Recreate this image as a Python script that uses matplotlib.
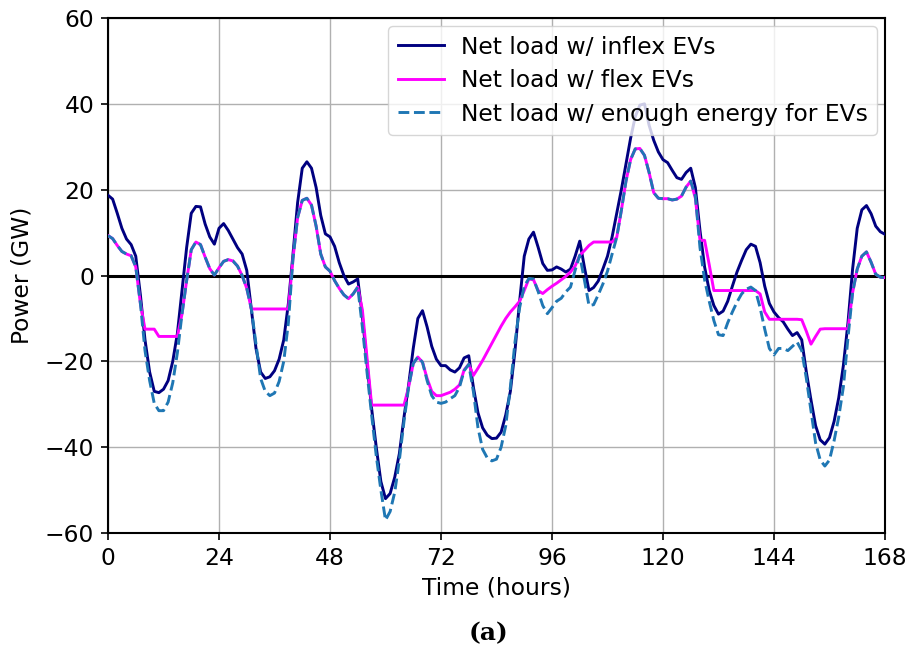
import numpy as np
import matplotlib
matplotlib.use("Agg")
import matplotlib.pyplot as plt

hours = np.arange(169)

inflex = [
    18.7, 17.8, 14.5, 11, 8.5, 7.2, 4.5, -4.5, -15, -22.5, -27, -27.3, -26.5, -24.5, -20, -13.5, -3.5, 6.5, 14.5, 16.1, 16, 12, 9, 7.3,
    11, 12.1, 10.5, 8.5, 6.5, 5, 1.2, -8, -17, -22.5, -24, -23.6, -22.2, -19.5, -15, -6.5, 5, 17, 25, 26.5, 25, 20.5, 14, 9.7,
    9, 6.8, 3, 0, -2, -1.5, -0.8, -9.5, -20.5, -31, -40, -48, -52, -50.8, -47, -41.5, -33, -25.5, -17, -10, -8.2, -12, -16.5, -19.5,
    -21, -21, -22, -22.5, -21.5, -19.2, -18.7, -26, -32, -35.5, -37.2, -38, -37.9, -36.5, -32.5, -27, -17.5, -6, 4.5, 8.5, 10.1, 6.6, 2.8, 1.2,
    1.3, 2, 1.5, 0.8, 1.5, 4.5, 8, 2, -3.5, -2.8, -1.3, 1.5, 4.5, 9, 14.5, 20, 26, 32, 37, 39.7, 40, 35, 31.5, 28.8,
    27, 26.3, 24.5, 22.8, 22.4, 24, 25, 20.5, 10.5, 2, -3.5, -7, -9, -8.3, -6, -2.5, 0.8, 3.5, 6, 7.3, 6.8, 3, -2.5, -6.5,
    -8.5, -9.8, -10.8, -12.5, -14, -13.3, -15, -22.5, -29, -35, -38.3, -39.3, -37.8, -34, -28.5, -21, -11, 1.5, 11, 15.3, 16.3, 14.4, 11.5, 10.2,
    9.6,
]

flex = [
    9.3, 8.6, 7, 5.6, 5, 4.6, 2, -6.5, -12.5, -12.5, -12.5, -14.2, -14.2, -14.2, -14.2, -14.2, -9, -1.2, 6, 7.8, 7.2, 4.3, 1.6, 0.1,
    1.8, 3.3, 3.7, 3.4, 2.2, 0, -3, -7.8, -7.8, -7.8, -7.8, -7.8, -7.8, -7.8, -7.8, -7.8, 4, 13.5, 17.5, 18, 16.4, 11.5, 5, 2,
    1, -1.2, -3, -4.5, -5.4, -4.3, -2.7, -8, -19, -30.2, -30.2, -30.2, -30.2, -30.2, -30.2, -30.2, -30.2, -26, -20.5, -19, -20.2, -24, -27, -28,
    -28, -27.6, -27.2, -26.5, -25.5, -22, -20.7, -23.3, -21.6, -19.8, -17.8, -15.8, -13.8, -11.8, -10, -8.5, -7.3, -6, -3.5, -0.8, -1, -3.5, -4.2, -3.3,
    -2.5, -1.8, -1, -0.2, 0.8, 2.2, 4.7, 5.8, 7, 7.8, 7.8, 7.8, 7.8, 7.8, 8.9, 15.2, 22, 27, 29.5, 29.6, 28, 24, 19.3, 18,
    17.9, 17.9, 17.6, 17.8, 18.5, 20.6, 22, 18, 8.2, 8.2, 2.5, -3.5, -3.5, -3.5, -3.5, -3.5, -3.5, -3.5, -3.5, -3.5, -3.5, -4.3, -8.5, -10.2,
    -10.2, -10.2, -10.2, -10.2, -10.2, -10.2, -10.3, -13, -16, -14.2, -12.5, -12.4, -12.4, -12.4, -12.4, -12.4, -12.4, -4, 1.5, 4.5, 5.5, 3.1, 0.3, -0.4,
    -0.5,
]

enough = [
    9.3, 8.6, 7, 5.6, 5, 4.6, 2, -6.5, -17.5, -24.5, -29.8, -31.5, -31.5, -29.5, -25, -18, -9, -1.2, 6, 7.8, 7.2, 4.3, 1.6, 0.1,
    1.8, 3.3, 3.7, 3.4, 2.2, 0, -3, -7.8, -16, -24, -27, -28, -27.4, -24.7, -20, -11, 4, 13.5, 17.5, 18, 16.4, 11.5, 5, 2,
    1, -1.2, -3, -4.5, -5.4, -4.3, -2.7, -12, -22.5, -32.5, -42, -50, -57, -55, -50.5, -43, -34, -26, -20.5, -19, -20.2, -24.5, -28, -29.5,
    -29.8, -29.5, -28.7, -28, -26, -22.2, -20.7, -27, -35.5, -40.5, -42.5, -43.2, -42.8, -40, -35, -26, -15.5, -7.5, -2.5, -0.7, -0.8, -3.7, -7, -8.9,
    -7.5, -6, -5.3, -3.8, -2.7, 1.2, 4.7, -1, -7, -6.8, -4.5, -2, 1, 5, 8.9, 15.2, 22, 27, 29.5, 29.6, 28, 24, 19.3, 18,
    17.9, 17.9, 17.6, 17.8, 18.5, 20.6, 22, 18.5, 6.5, -1, -6, -10.5, -13.8, -14, -11, -8.5, -6.2, -4.3, -3.2, -2.7, -3.5, -7.5, -12.5, -17,
    -18.5, -17, -17, -17.5, -16.5, -15.5, -17.5, -24, -31.5, -39, -43, -44.4, -43, -38.5, -33, -26, -14.5, -4, 1.5, 4.5, 5.5, 3.1, 0.3, -0.4,
    -0.5,
]

labels = ["Net load w/ inflex EVs", "Net load w/ flex EVs", "Net load w/ enough energy for EVs"]
xticks = [0, 24, 48, 72, 96, 120, 144, 168]
yticks = [-60, -40, -20, 0, 20, 40, 60]

plt.rcParams['font.family'] = ['DejaVu Sans']
fs = 16.8

fig = plt.figure(figsize=(9.13, 6.53), dpi=100)
ax = fig.add_axes([0.1183, 0.1838, 0.851, 0.7886])

ax.grid(True, color='#b0b0b0', linewidth=1.0, zorder=0)
ax.axhline(0, color='black', linewidth=2.2, zorder=2)
ax.plot(hours, inflex, color='navy', linewidth=2.1, label=labels[0], zorder=3)
ax.plot(hours, flex, color='magenta', linewidth=2.1, label=labels[1], zorder=3)
ax.plot(hours, enough, color='#1f77b4', linewidth=2.1, linestyle='--', label=labels[2], zorder=4)

ax.set_xlim(0, 168)
ax.set_ylim(-60, 60)
ax.set_xticks(xticks)
ax.set_yticks(yticks)
ax.tick_params(labelsize=fs, width=1.2, length=5, pad=5)
for s in ax.spines.values():
    s.set_linewidth(1.5)
ax.set_xlabel("Time (hours)", fontsize=fs, labelpad=5)
ax.set_ylabel("Power (GW)", fontsize=fs, labelpad=8)
ax.legend(loc='upper right', fontsize=fs, handlelength=2.0, borderaxespad=0.35,
          labelspacing=0.45, handletextpad=0.7)

fig.text(0.535, 0.031, "(a)", ha='center', va='center', fontsize=18,
         fontweight='bold', family='DejaVu Serif')

fig.savefig("out.png", dpi=100)
